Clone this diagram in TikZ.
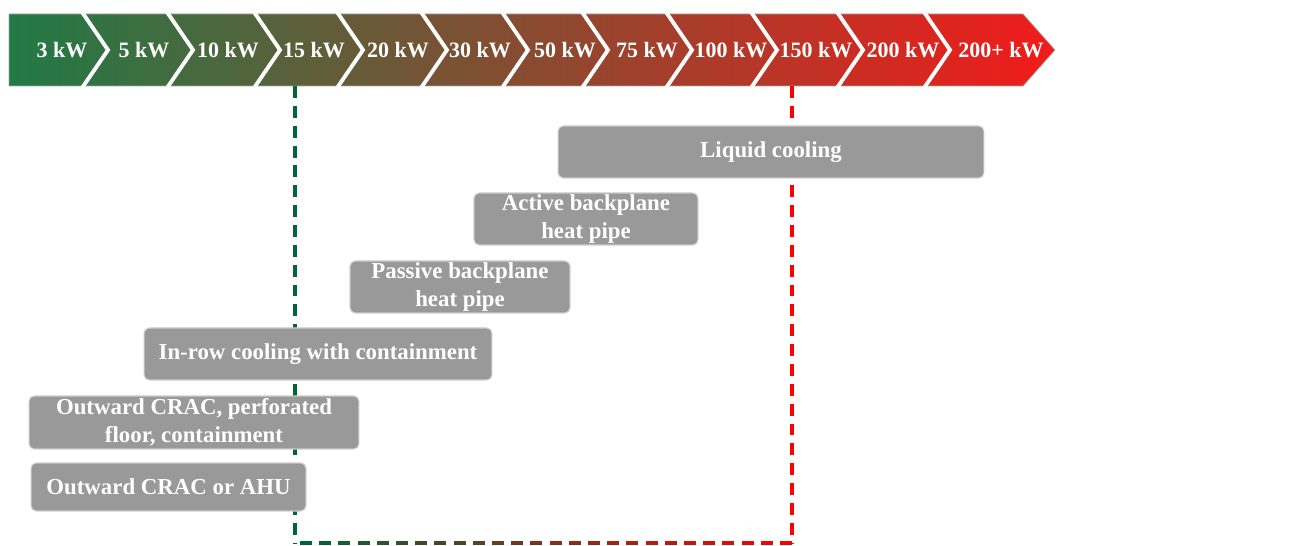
\documentclass[tikz,border=0pt]{standalone}
\usepackage{fontspec}
\setmainfont{Liberation Serif}
\definecolor{barGreen}{RGB}{33,122,70}
\definecolor{barRed}{RGB}{242,27,27}
\definecolor{boxGray}{RGB}{153,153,153}
\definecolor{boxEdge}{RGB}{205,205,205}
\definecolor{lineGreen}{RGB}{0,102,51}
\definecolor{lineRed}{RGB}{255,0,0}

\begin{document}
\begin{tikzpicture}[x=0.02cm, y=-0.02cm,
    seglabel/.style={text=white, font=\bfseries\fontsize{12.5}{14}\selectfont, inner sep=0pt},
    coolbox/.style={rectangle, rounded corners=3pt, fill=boxGray, draw=boxEdge, line width=0.6pt,
        text=white, font=\bfseries\fontsize{13}{16}\selectfont, align=center, inner sep=0pt},
    limit/.style={line width=2.3pt, dash pattern=on 6.8pt off 4.5pt}]
    \useasboundingbox (0,0) rectangle (1309,546);

    % Power scale bar
    \shadedraw[draw=black!35, line width=0.4pt, left color=barGreen, right color=barRed]
        (9,14) -- (1023,14) -- (1055,50) -- (1023,86) -- (9,86) -- cycle;
    \foreach \t in {108,193,280,363,447,528,608,692,777,863,950}
        \draw[white, line width=2.2pt] (\t-26,12) -- (\t,50) -- (\t-26,88);
    \foreach \cx/\txt [count=\i] in {62/3 kW, 144/5 kW, 228/10 kW, 314/15 kW, 398/20 kW,
        480/30 kW, 565/50 kW, 647/75 kW, 731/100 kW, 816/150 kW, 903/200 kW, 1001/200+ kW}
        \node[seglabel] (seg\i) at (\cx,50) {\txt};

    % Limits
    \coordinate (lowTop) at (295,86);
    \coordinate (lowBot) at (295,543);
    \coordinate (highTop) at (792,86);
    \coordinate (highBot) at (792,543);
    \draw[limit, lineGreen] (lowTop) -- (lowBot);
    \draw[limit, lineRed] (highTop) -- (highBot);
    \foreach \k in {0,...,25} {
        \pgfmathtruncatemacro{\p}{100-4*\k}
        \draw[line width=2.3pt, lineGreen!\p!lineRed] ({300+19.2*\k},543) -- ++(12,0);
    }

    % Cooling methods
    \node[coolbox, minimum width=8.52cm, minimum height=1.04cm] (liquid) at (771,152) {Liquid cooling};
    \node[coolbox, minimum width=4.48cm, minimum height=1.04cm] (active) at (586,219) {Active backplane\\heat pipe};
    \node[coolbox, minimum width=4.40cm, minimum height=1.04cm] (passive) at (460,287) {Passive backplane\\heat pipe};
    \node[coolbox, minimum width=6.96cm, minimum height=1.04cm] (inrow) at (318,354) {In-row cooling with containment};
    \node[coolbox, minimum width=6.60cm, minimum height=1.06cm] (floor) at (194,422.5) {Outward CRAC, perforated\\floor, containment};
    \node[coolbox, minimum width=5.50cm, minimum height=0.96cm] (crac) at (168.5,487) {Outward CRAC or AHU};
\end{tikzpicture}
\end{document}
